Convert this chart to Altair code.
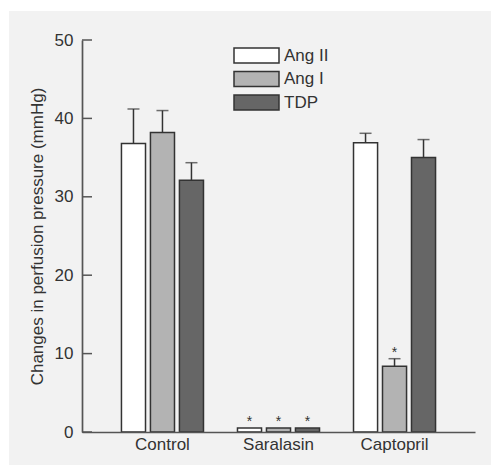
import altair as alt
import pandas as pd

groups = ["Control", "Saralasin", "Captopril"]
series = ["Ang II", "Ang I", "TDP"]
colors = ["#ffffff", "#b3b3b3", "#666666"]

control_mean = [36.8, 38.2, 32.1]
saralasin_mean = [0.5, 0.5, 0.5]
captopril_mean = [36.9, 8.4, 35.0]

control_err = [4.4, 2.8, 2.25]
saralasin_err = [0.0, 0.0, 0.0]
captopril_err = [1.2, 0.95, 2.3]

control_star = [False, False, False]
saralasin_star = [True, True, True]
captopril_star = [False, True, False]

y_ticks = [0, 10, 20, 30, 40, 50]

rows = []
for g, means, errs, stars in [
    ("Control", control_mean, control_err, control_star),
    ("Saralasin", saralasin_mean, saralasin_err, saralasin_star),
    ("Captopril", captopril_mean, captopril_err, captopril_star),
]:
    for s, m, e, st in zip(series, means, errs, stars):
        rows.append({"group": g, "series": s, "mean": m, "err": e, "upper": m + e, "star": st})
df = pd.DataFrame(rows)

FONT = "Liberation Sans"
TEXT = "#333333"
AXIS = "#555555"

x_enc = alt.X(
    "group:N",
    sort=groups,
    scale=alt.Scale(paddingInner=0.293, paddingOuter=0.34),
    axis=alt.Axis(title=None, ticks=False, labelAngle=0, labelPadding=4, zindex=1),
)
xo_enc = alt.XOffset("series:N", sort=series, scale=alt.Scale(paddingInner=0.17, paddingOuter=0))
y_scale = alt.Scale(domain=[0, 50], nice=False)
y_axis = alt.Axis(
    title="Changes in perfusion pressure (mmHg)",
    values=y_ticks,
    ticks=False,
    labelPadding=9,
    titlePadding=8,
    titleFontSize=17,
    titleFontWeight="normal",
    zindex=1,
)

bg = alt.Chart(pd.DataFrame({"a": [0]})).mark_rect(color="#f2f2f2").encode(
    x=alt.value(-73), x2=alt.value(409), y=alt.value(-29), y2=alt.value(425)
)

base = alt.Chart(df)

bars = base.mark_bar(stroke="#333333", strokeWidth=1.5).encode(
    x=x_enc,
    xOffset=xo_enc,
    y=alt.Y("mean:Q", scale=y_scale, axis=y_axis),
    fill=alt.Fill(
        "series:N",
        sort=series,
        scale=alt.Scale(domain=series, range=colors),
        legend=alt.Legend(
            orient="none",
            legendX=151,
            legendY=7,
            title=None,
            symbolType="M-1,-1H5V1H-1Z",
            symbolSize=225,
            symbolStrokeColor="#333333",
            symbolStrokeWidth=1.5,
            symbolOpacity=1,
            labelFontSize=17,
            labelOffset=34,
            rowPadding=2.5,
            padding=0,
            labelColor=TEXT,
            labelFont=FONT,
        ),
    ),
)

err = base.transform_filter("datum.err > 0")
err_rule = err.mark_rule(color="#333333", strokeWidth=1.5).encode(
    x=x_enc, xOffset=xo_enc,
    y=alt.Y("mean:Q", scale=y_scale, axis=y_axis),
    y2="upper:Q",
)
err_cap = err.mark_tick(color="#333333", size=12, thickness=1.5).encode(
    x=x_enc, xOffset=xo_enc,
    y=alt.Y("upper:Q", scale=y_scale, axis=y_axis),
)

stars = base.transform_filter("datum.star").mark_text(
    text="*", fontSize=14, color=TEXT, baseline="middle", dy=-6, font=FONT
).encode(
    x=x_enc, xOffset=xo_enc,
    y=alt.Y("upper:Q", scale=y_scale, axis=y_axis),
)

ticks = alt.Chart(pd.DataFrame({"t": y_ticks})).mark_rule(color=AXIS, strokeWidth=1.5).encode(
    y=alt.Y("t:Q", scale=y_scale, axis=y_axis),
    x=alt.value(0),
    x2=alt.value(10),
)

chart = alt.layer(bg, bars, err_rule, err_cap, stars, ticks).properties(
    width=393,
    height=392,
    padding={"left": 82, "top": 40, "right": 16, "bottom": 33},
    autosize=alt.AutoSizeParams(type="none"),
    background="#ffffff",
).configure_view(stroke=None).configure_axis(
    grid=False,
    domainColor=AXIS,
    domainWidth=1.7,
    labelFont=FONT,
    labelFontSize=17,
    labelColor=TEXT,
    titleFont=FONT,
    titleColor=TEXT,
)

chart.save("out.html", embed_options={"renderer": "svg", "actions": False})
